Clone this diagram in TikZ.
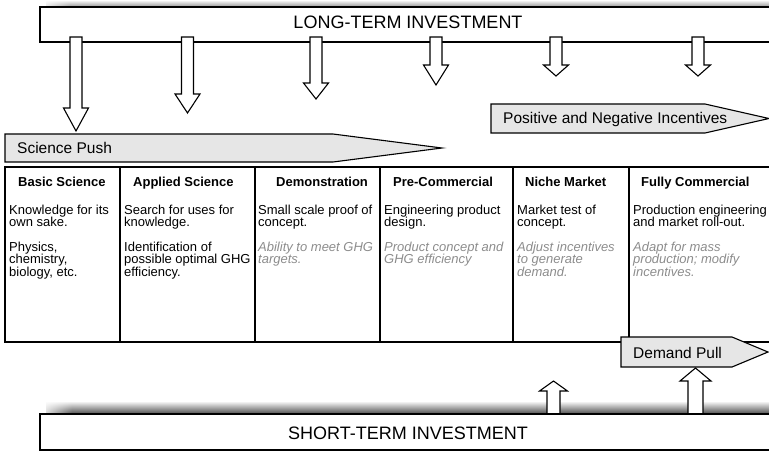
\documentclass[tikz,border=0pt]{standalone}
\usepackage{fontspec}
\setmainfont{Liberation Sans}
\usetikzlibrary{fadings}
\definecolor{notegray}{RGB}{140,140,140}
\definecolor{bannerfill}{RGB}{230,230,230}

% block arrow pointing down: centre x, top, shaft end, tip, shaft half width, head half width
\newcommand\blkdown[6]{%
  \filldraw[blk] (#1-#5,#2) -- (#1-#5,#3) -- (#1-#6,#3) -- (#1,#4)
    -- (#1+#6,#3) -- (#1+#5,#3) -- (#1+#5,#2) -- cycle;}
% block arrow pointing up: centre x, bottom, shaft end, tip, shaft half width, head half width
\newcommand\blkup[6]{%
  \filldraw[blk] (#1-#5,#2) -- (#1-#5,#3) -- (#1-#6,#3) -- (#1,#4)
    -- (#1+#6,#3) -- (#1+#5,#3) -- (#1+#5,#2) -- cycle;}

\begin{document}
\begin{tikzpicture}[x=1pt,y=-1pt,
  frame/.style={draw=black,line width=1.4pt},
  blk/.style={draw=black,fill=white,line width=1.1pt,line join=miter},
  banner/.style={draw=black,fill=bannerfill,line width=1.1pt,line join=miter},
  bannertext/.style={anchor=base west,inner sep=0pt,font=\fontsize{15.5}{17}\selectfont},
  invtext/.style={anchor=base,inner sep=0pt,font=\fontsize{18}{20}\selectfont},
  head/.style={anchor=base west,inner sep=0pt,font=\fontsize{13}{13}\selectfont\bfseries},
  body/.style={anchor=base west,inner sep=0pt,align=left,font=\fontsize{13}{12.7}\selectfont},
  note/.style={body,text=notegray,font=\fontsize{13}{12.7}\selectfont\itshape}]
\useasboundingbox (0,0) rectangle (769,451);
\clip (0,0) rectangle (769,451);

% ---- long-term investment bar with its soft shadow
\shade[top color=white,bottom color=black!45] (46,0) rectangle (775,7.5);
\fill[white,path fading=east] (38,0) rectangle (70,8);
\draw[frame,fill=white] (40,7) rectangle (790,42);
\node[invtext] (lti) at (408,28.5) {LONG-TERM INVESTMENT};

% funding arrows from the long-term bar
\foreach \cx/\se/\tp in {76/108/131, 187.5/94/113, 316/83/99, 436/65/85, 556/65/76, 698/65/76}
  {\blkdown{\cx}{37}{\se}{\tp}{6}{12.5}}

% ---- policy banners
\filldraw[banner] (491,104) -- (705,104) -- (769,118.5) -- (705,133) -- (491,133) -- cycle;
\node[bannertext] (pni) at (503,123) {Positive and Negative Incentives};

\filldraw[banner] (5,134) -- (333,134) -- (442,148) -- (333,162) -- (5,162) -- cycle;
\node[bannertext] (sp) at (17,153) {Science Push};

% ---- stage table
\draw[frame] (790,167) -- (5,167) -- (5,342) -- (790,342);
\foreach \x in {120,255,380,513,629} \draw[frame] (\x,167) -- (\x,342);

\node[head] (h1) at (18,186.5)  {Basic Science};
\node[head] (h2) at (133,186.5) {Applied Science};
\node[head] (h3) at (276,186.5) {Demonstration};
\node[head] (h4) at (393,186.5) {Pre-Commercial};
\node[head] (h5) at (525,186.5) {Niche Market};
\node[head] (h6) at (641,186.5) {Fully Commercial};

% multi-line cells are placed by the baseline of their last line
\node[body] (b1) at (9,226.7)   {Knowledge for its\\own sake.};
\node[body] (c1) at (9,276.4)   {Physics,\\chemistry,\\biology, etc.};
\node[body] (b2) at (124,226.7) {Search for uses for\\knowledge.};
\node[body] (c2) at (124,276.4) {Identification of\\possible optimal GHG\\efficiency.};
\node[body] (b3) at (258,226.7) {Small scale proof of\\concept.};
\node[note] (c3) at (258,263.7) {Ability to meet GHG\\targets.};
\node[body] (b4) at (384,226.7) {Engineering product\\design.};
\node[note] (c4) at (384,263.7) {Product concept and\\GHG efficiency};
\node[body] (b5) at (517,226.7) {Market test of\\concept.};
\node[note] (c5) at (517,276.4) {Adjust incentives\\to generate\\demand.};
\node[body] (b6) at (633,226.7) {Production engineering\\and market roll-out.};
\node[note] (c6) at (633,276.4) {Adapt for mass\\production; modify\\incentives.};

% ---- demand pull banner over the table edge
\filldraw[banner] (621,337) -- (732,337) -- (768,352) -- (732,367) -- (621,367) -- cycle;
\node[bannertext] (dp) at (633,358) {Demand Pull};

% ---- short-term investment bar with its soft shadow
\shade[top color=white,bottom color=black!70] (46,401) rectangle (775,414);
\fill[white,path fading=east] (38,400) rectangle (72,414);
\blkup{553.5}{414}{391}{381}{6.5}{14}
\blkup{695.5}{414}{381}{368}{7.5}{15.5}
\draw[frame,fill=white] (40,414) rectangle (790,450);
\node[invtext] (sti) at (408,439) {SHORT-TERM INVESTMENT};
\end{tikzpicture}
\end{document}
